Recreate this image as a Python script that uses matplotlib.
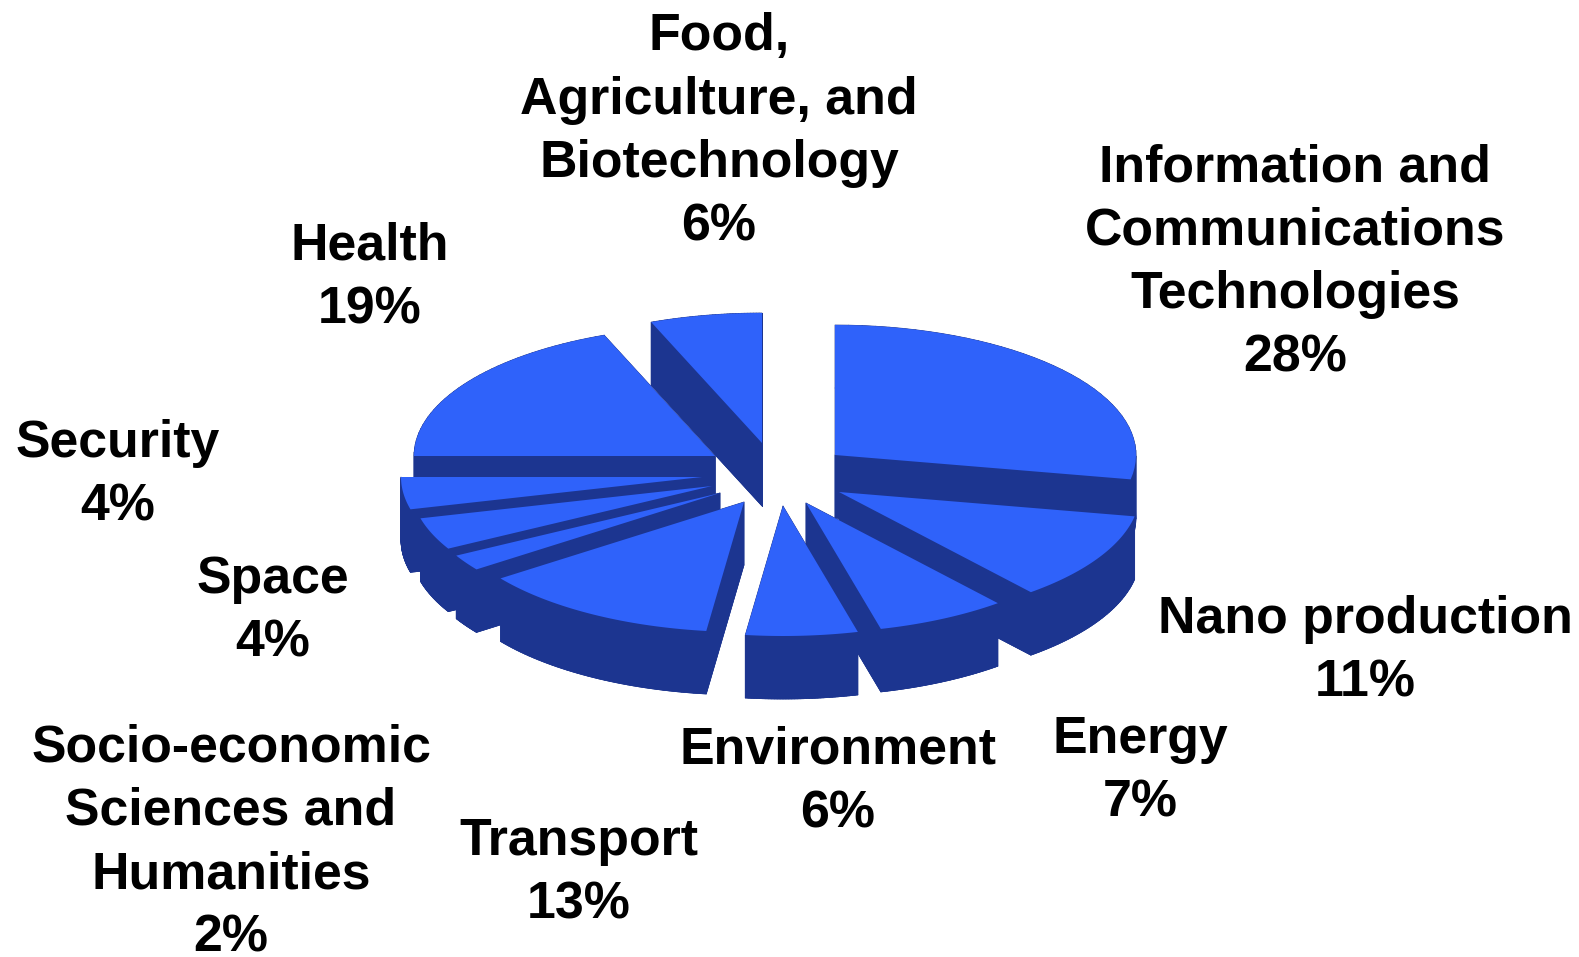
"""
Exploded 3D-style pie of research priorities, drawn from wedge polygons.
"""

import numpy as np
import matplotlib.pyplot as plt
from matplotlib.collections import PolyCollection

categories = [
    "Information and\nCommunications\nTechnologies",
    "Nano production",
    "Energy",
    "Environment",
    "Transport",
    "Socio-economic\nSciences and\nHumanities",
    "Space",
    "Security",
    "Health",
    "Food,\nAgriculture, and\nBiotechnology",
]
shares = [28, 11, 7, 6, 13, 2, 4, 4, 19, 6]

# layout, in pixels: where each wedge's apex ended up after exploding
apex_x = [835, 839, 806, 783, 744, 720, 712, 702, 715, 762]
apex_y = [455, 492, 503, 506, 502, 493, 486, 477, 456, 443]
label_x = [1295, 1365, 1140, 838, 579, 231, 273, 118, 370, 719]
label_y = [263, 651, 771, 782, 873, 843, 611, 475, 278, 132]

# back to front
draw_order = [9, 0, 8, 7, 6, 5, 4, 1, 2, 3]

RX, RY = 301, 130
DEPTH = 63
TOP_COLOR = "#2F62FA"
SIDE_COLOR = "#1C3590"

plt.rcParams["font.family"] = ["Liberation Sans", "DejaVu Sans"]

fig = plt.figure(figsize=(15.79, 9.57), dpi=100)
ax = fig.add_axes([0, 0, 1, 1])
ax.set_xlim(0, 1579)
ax.set_ylim(957, 0)
ax.axis("off")


def wedge_outline(cx, cy, start_share, share):
    """Apex plus rim points, going clockwise from 12 o'clock on a squashed circle."""
    cw = np.radians(3.6 * np.linspace(start_share, start_share + share, 40))
    xs = cx + RX * np.sin(cw)
    ys = cy - RY * np.cos(cw)
    return np.vstack([[cx, cy], np.column_stack([xs, ys])])


starts = np.concatenate([[0], np.cumsum(shares)[:-1]])

for i in draw_order:
    top = wedge_outline(apex_x[i], apex_y[i], starts[i], shares[i])
    bottom = top + [0, DEPTH]

    # extrude every outline segment, then lay the top face over it
    walls = [bottom]
    for a, b in zip(top, np.roll(top, -1, axis=0)):
        walls.append(np.array([a, b, b + [0, DEPTH], a + [0, DEPTH]]))
    ax.add_collection(PolyCollection(walls, facecolors=SIDE_COLOR,
                                     edgecolors=SIDE_COLOR, linewidths=0.5))
    ax.fill(top[:, 0], top[:, 1], color=TOP_COLOR, lw=0)

for name, share, x, y in zip(categories, shares, label_x, label_y):
    ax.text(x, y, f"{name}\n{share}%", ha="center", va="center", fontsize=37.4,
            fontweight="bold", color="black", linespacing=1.385)

plt.savefig("out.png", dpi=100)
